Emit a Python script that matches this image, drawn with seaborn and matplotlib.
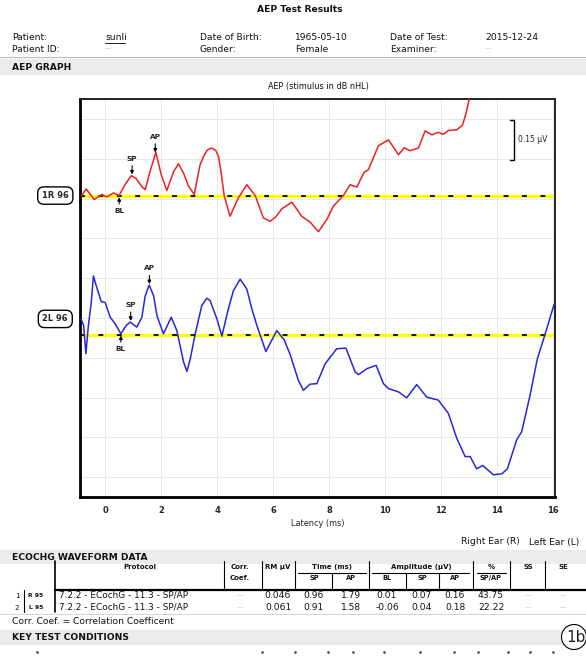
import numpy as np
import pandas as pd
import matplotlib
matplotlib.use("Agg")
import matplotlib.pyplot as plt
import matplotlib.transforms as mtrans
from matplotlib.patches import Rectangle, Circle
import seaborn as sns

sns.set_style("white")
plt.rcParams['font.family'] = ['DejaVu Sans']

# ---------------- data ----------------
r_time = [-0.84, -0.68, -0.5, -0.39, -0.25, -0.12, 0.06, 0.3, 0.5, 0.7, 0.93, 1.1, 1.3, 1.43,
          1.6, 1.81, 2.0, 2.2, 2.45, 2.62, 2.8, 2.98, 3.18, 3.39, 3.51, 3.65, 3.81, 3.95, 4.05,
          4.15, 4.25, 4.46, 4.75, 5.06, 5.36, 5.65, 5.89, 6.1, 6.31, 6.67, 7.02, 7.32, 7.62,
          7.92, 8.15, 8.51, 8.75, 8.99, 9.25, 9.4, 9.76, 10.12, 10.48, 10.68, 10.89, 11.19, 11.43,
          11.67, 11.9, 12.08, 12.26, 12.56, 12.77, 12.89, 13.01, 13.15]
r_amp = [0.0, 0.025, 0.0, -0.015, -0.005, 0.004, -0.005, 0.01, 0.0, 0.04, 0.075, 0.065, 0.035, 0.022,
         0.09, 0.163, 0.08, 0.019, 0.091, 0.12, 0.084, 0.035, 0.004, 0.116, 0.147, 0.172, 0.179, 0.17, 0.147,
         0.08, 0.0, -0.078, -0.01, 0.041, 0.0, -0.084, -0.097, -0.08, -0.05, -0.025, -0.078, -0.1, -0.136,
         -0.09, -0.04, 0.0, 0.041, 0.032, 0.088, 0.097, 0.1875, 0.21, 0.154, 0.18, 0.169, 0.179, 0.244,
         0.229, 0.238, 0.231, 0.245, 0.248, 0.266, 0.31, 0.366, 0.45]

l_time = [-0.86, -0.77, -0.69, -0.6, -0.5, -0.42, -0.32, -0.14, 0.0, 0.18, 0.36, 0.56, 0.75, 0.89, 1.13,
          1.31, 1.43, 1.57, 1.73, 1.85, 2.08, 2.36, 2.56, 2.8, 2.92, 3.04, 3.21, 3.45, 3.63, 3.75, 3.99,
          4.17, 4.23, 4.4, 4.58, 4.82, 5.06, 5.24, 5.42, 5.74, 6.13, 6.4, 6.61, 6.9, 7.08, 7.32, 7.56,
          7.86, 8.04, 8.27, 8.6, 8.93, 9.05, 9.35, 9.68, 9.94, 10.12, 10.48, 10.77, 11.13, 11.49, 11.9,
          12.26, 12.56, 12.86, 13.04, 13.27, 13.49, 13.87, 14.17, 14.37, 14.7, 14.88, 15.18, 15.44,
          15.71, 16.04]
l_amp = [0.06, 0.035, -0.071, 0.035, 0.12, 0.222, 0.185, 0.125, 0.122, 0.066, 0.041, 0.004, 0.035, 0.048,
         0.029, 0.066, 0.147, 0.1875, 0.147, 0.072, 0.004, 0.066, 0.016, -0.1025, -0.138, -0.09, 0.0, 0.11,
         0.138, 0.129, 0.06, -0.005, 0.0225, 0.0975, 0.166, 0.21, 0.1725, 0.0975, 0.035, -0.063, 0.016,
         -0.02, -0.075, -0.171, -0.209, -0.186, -0.184, -0.109, -0.084, -0.0525, -0.05, -0.14, -0.15,
         -0.1275, -0.115, -0.184, -0.2025, -0.215, -0.2375, -0.1875, -0.235, -0.246, -0.296, -0.39,
         -0.459, -0.459, -0.505, -0.4925, -0.5275, -0.524, -0.505, -0.396, -0.365, -0.2275, -0.09, 0.0,
         0.116]

# marker latencies (ms): BL, SP, AP
r_marks = {"BL": 0.50, "SP": 0.96, "AP": 1.79}
l_marks = {"BL": 0.56, "SP": 0.91, "AP": 1.58}

x_ticks = [0, 2, 4, 6, 8, 10, 12, 14, 16]

# table data
row_ids = ["1", "2"]
row_ears = ["R 95", "L 95"]
protocols = ["7.2.2 - ECochG - 11.3 - SP/AP", "7.2.2 - ECochG - 11.3 - SP/AP"]
corr_coef = ["\u2014", "\u2014"]
rm_uv = ["0.046", "0.061"]
time_sp = ["0.96", "0.91"]
time_ap = ["1.79", "1.58"]
amp_bl = ["0.01", "-0.06"]
amp_sp = ["0.07", "0.04"]
amp_ap = ["0.16", "0.18"]
pct_spap = ["43.75", "22.22"]
ss_vals = ["\u2014", "\u2014"]
se_vals = ["\u2014", "\u2014"]

# ---------------- figure ----------------
W, H = 586, 659
fig = plt.figure(figsize=(W / 100, H / 100), dpi=100)
fig.patch.set_facecolor("white")

ov = fig.add_axes([0, 0, 1, 1])
ov.set_xlim(0, W)
ov.set_ylim(H, 0)
ov.axis("off")
ov.set_zorder(0)

FS = 6.6


def T(x, y, s, size=FS, weight="normal", ha="left", color="#111111", **kw):
    ov.text(x, y, s, fontsize=size, fontweight=weight, ha=ha, va="center", color=color, **kw)


def dash(x, y, ha="left"):
    ov.text(x, y, "\u2014", fontsize=4.5, color="#aaaaaa", ha=ha, va="center")


def band(y0, y1):
    ov.add_patch(Rectangle((0, y0), W, y1 - y0, facecolor="#ebebeb", edgecolor="none", zorder=0))


# header
T(300, 10, "AEP Test Results", size=6.6, weight="bold", ha="center")
T(12, 38, "Patient:")
T(105, 38, "sunli")
ov.plot([105, 125], [42.5, 42.5], color="black", lw=0.6)
T(200, 38, "Date of Birth:")
T(295, 38, "1965-05-10")
T(390, 38, "Date of Test:")
T(485, 38, "2015-12-24")
T(12, 49, "Patient ID:")
dash(105, 49)
T(200, 49, "Gender:")
T(295, 49, "Female")
T(390, 49, "Examiner:")
dash(485, 49)
ov.plot([0, W], [57, 57], color="#bbbbbb", lw=0.8)
band(59, 75)
T(12, 67, "AEP GRAPH", weight="bold")
T(318, 86, "AEP (stimulus in dB nHL)", size=5.9, ha="center")

# ---------------- main graph ----------------
ax = fig.add_axes([80 / W, 1 - 497 / H, 475 / W, 398 / H])
ax.set_zorder(1)
ax.set_facecolor("white")

L_OFF = -0.525
df_r = pd.DataFrame({"t": r_time, "a": np.array(r_amp)})
df_l = pd.DataFrame({"t": l_time, "a": np.array(l_amp) + L_OFF})

for off in (0.0, L_OFF):
    ax.axhline(off, color="#ffff00", lw=2.3, zorder=2)
    ax.axhline(off, color="black", lw=1.3, dashes=(2.7, 7.5), zorder=3)

sns.lineplot(data=df_r, x="t", y="a", ax=ax, color="#ee2020", lw=1.1, estimator=None, sort=False, zorder=4)
sns.lineplot(data=df_l, x="t", y="a", ax=ax, color="#2626dd", lw=1.1, estimator=None, sort=False, zorder=4)

ax.set_xlim(-0.9, 16.07)
ax.set_ylim(-1.129, 0.364)
ax.set_xticks(x_ticks)
ax.set_xticklabels([str(v) for v in x_ticks], fontsize=6, fontweight="bold")
ax.set_xticks(np.arange(-0.5, 16.1, 0.5), minor=True)
grid_y = np.arange(-1.0613, 0.36, 0.15)
ax.set_yticks(grid_y)
ax.set_yticklabels([])
ax.set_yticks(np.arange(-1.1363, 0.36, 0.075), minor=True)
ax.tick_params(axis="both", which="both", direction="out", length=2.5, width=0.7, color="#444444", pad=4)
ax.grid(True, which="major", color="#e4e4e4", lw=0.6)
ax.set_xlabel("Latency (ms)", fontsize=5.9, labelpad=3)
ax.set_ylabel("")
for side in ("left", "bottom"):
    ax.spines[side].set_linewidth(2.0)
    ax.spines[side].set_color("black")
for side in ("top", "right"):
    ax.spines[side].set_linewidth(1.4)
    ax.spines[side].set_color("#222222")


def mark(marks, times, amps, off):
    for name, t in marks.items():
        y = np.interp(t, times, amps) + off
        xyt = (0, -11) if name == "BL" else (0, 12.5)
        ax.annotate(name, xy=(t, y), xytext=xyt, textcoords="offset points",
                    ha="center", va="center", fontsize=5.3, fontweight="bold",
                    arrowprops=dict(arrowstyle="-|>", color="black", lw=0.8,
                                    mutation_scale=5, shrinkA=0.5, shrinkB=1.2), zorder=6)


mark(r_marks, r_time, r_amp, 0.0)
mark(l_marks, l_time, l_amp, L_OFF)

# scale bar 0.15 uV
ax.plot([14.45, 14.6, 14.6, 14.45], [0.285, 0.285, 0.135, 0.135], color="black", lw=1.0, zorder=5)
ax.text(14.75, 0.21, "0.15 \u00b5V", fontsize=5.5, va="center", ha="left")

# channel labels
tr = mtrans.blended_transform_factory(ax.transAxes, ax.transData)
for lab, yv in (("1R 96", 0.0), ("2L 96", -0.465)):
    ax.text(-0.052, yv, lab, transform=tr, fontsize=6.0, fontweight="bold", ha="center", va="center",
            bbox=dict(boxstyle="round,pad=0.5,rounding_size=0.75", fc="white", ec="black", lw=1.0),
            clip_on=False, zorder=7)

# ---------------- table ----------------
T(461, 542, "Right Ear (R)")
T(529, 542, "Left Ear (L)")
band(550, 564)
T(12, 557, "ECOCHG WAVEFORM DATA", weight="bold")

hy, sy = 567, 578
HS = 5.0
T(140, hy, "Protocol", size=HS, weight="bold", ha="center")
T(240, hy, "Corr.", size=HS, weight="bold", ha="center")
T(240, sy, "Coef.", size=HS, weight="bold", ha="center")
T(278, hy, "RM \u00b5V", size=HS, weight="bold", ha="center")
T(332, hy, "Time (ms)", size=HS, weight="bold", ha="center")
T(421, hy, "Amplitude (\u00b5V)", size=HS, weight="bold", ha="center")
T(491, hy, "%", size=HS, weight="bold", ha="center")
T(528, hy, "SS", size=HS, weight="bold", ha="center")
T(563, hy, "SE", size=HS, weight="bold", ha="center")
for x, s in ((314, "SP"), (351, "AP"), (387, "BL"), (422, "SP"), (455, "AP"), (491, "SP/AP")):
    T(x, sy, s, size=4.8, weight="bold", ha="center")

lk = dict(color="black", lw=0.8)
for x0, x1 in ((298, 366), (372, 469), (477, 506)):
    ov.plot([x0, x1], [572.5, 572.5], **lk)
for x in (224, 262, 295, 369, 473, 510, 545):
    ov.plot([x, x], [561, 588], **lk)
for x in (332, 406, 439):
    ov.plot([x, x], [573, 588], **lk)
ov.plot([55, 55], [561, 612], color="black", lw=1.2)
ov.plot([24, 24], [590, 612], **lk)
ov.plot([55, W], [589.5, 589.5], color="black", lw=1.6)
ov.plot([0, W], [613.5, 613.5], color="#cccccc", lw=0.6)

for i, ry in enumerate((595.5, 607.5)):
    T(17, ry, row_ids[i], size=5.2, ha="center")
    T(36, ry, row_ears[i], size=4.4, weight="bold", ha="center")
    T(59, ry, protocols[i], size=6.4)
    dash(240, ry, ha="center")
    T(278, ry, rm_uv[i], ha="center")
    T(314, ry, time_sp[i], ha="center")
    T(351, ry, time_ap[i], ha="center")
    T(387, ry, amp_bl[i], ha="center")
    T(422, ry, amp_sp[i], ha="center")
    T(455, ry, amp_ap[i], ha="center")
    T(491, ry, pct_spap[i], ha="center")
    dash(528, ry, ha="center")
    dash(563, ry, ha="center")

T(12, 621, "Corr. Coef. = Correlation Coefficent")
band(630, 645)
T(12, 637, "KEY TEST CONDITIONS", weight="bold")

ov.add_patch(Circle((574, 637), 12.5, facecolor="white", edgecolor="black", lw=0.8, zorder=3))
ov.text(576, 637, "1b", fontsize=11, ha="center", va="center", zorder=4, color="#222222")

for x in (37, 262, 295, 328, 353, 384, 420, 454, 478, 508, 530, 553):
    ov.plot([x], [652], marker="s", ms=0.8, color="#444444")

fig.savefig("out.png", dpi=100, facecolor="white")
